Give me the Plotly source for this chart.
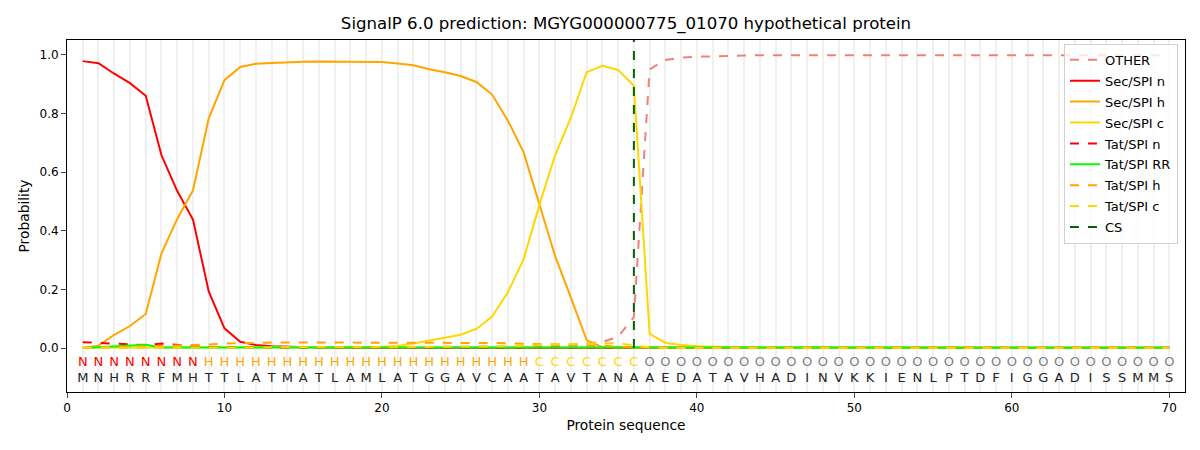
import plotly.graph_objects as go

sequence = "MNHRRFMHTTLATMATLAMLATGGAVCAATAVTANAAEDATAVHADINVKKIENLPTDFIGGADISSMMS"
region_labels = "N" * 8 + "H" * 21 + "C" * 7 + "O" * 34
positions = list(range(1, len(sequence) + 1))
cs_site = 36

other = [0.001] * 20 + [0.003, 0.003, 0.003, 0.004, 0.004, 0.004, 0.005, 0.005, 0.005, 0.006,
         0.007, 0.010, 0.015, 0.021, 0.038, 0.105, 0.950, 0.982, 0.990, 0.993,
         0.995, 0.996, 0.997, 0.998] + [0.998] * 26
sec_n = [0.978, 0.971, 0.935, 0.903, 0.860, 0.657, 0.535, 0.438, 0.193, 0.067,
         0.021, 0.010, 0.006, 0.004, 0.003, 0.002, 0.002] + [0.001] * 53
sec_h = [0.001, 0.008, 0.045, 0.075, 0.116, 0.323, 0.440, 0.537, 0.783, 0.913,
         0.958, 0.969, 0.972, 0.975, 0.976, 0.977, 0.977, 0.977, 0.976, 0.975,
         0.970, 0.964, 0.950, 0.940, 0.927, 0.907, 0.864, 0.775, 0.667, 0.488,
         0.313, 0.172, 0.027, 0.003, 0.001, 0.001] + [0.001] * 34
sec_c = [0.001] * 17 + [0.002, 0.003, 0.004, 0.007, 0.015, 0.025, 0.035, 0.045, 0.065,
         0.107, 0.190, 0.303, 0.488, 0.658, 0.785, 0.940, 0.962, 0.948, 0.894,
         0.048, 0.018, 0.010, 0.006, 0.004, 0.003, 0.002] + [0.001] * 27
tat_n = [0.020, 0.018, 0.016, 0.013, 0.010, 0.015, 0.010, 0.006, 0.004, 0.003,
         0.002, 0.002] + [0.001] * 58
tat_rr = [0.000, 0.003, 0.006, 0.009, 0.011, 0.002, 0.002, 0.001] + [0.001] * 62
tat_h = [0.000, 0.002, 0.004, 0.005, 0.006, 0.007, 0.008, 0.010, 0.012, 0.015,
         0.017, 0.019, 0.019, 0.019, 0.019, 0.019, 0.019, 0.019, 0.019, 0.019,
         0.019, 0.019, 0.019, 0.018, 0.018, 0.017, 0.017, 0.016, 0.015, 0.013,
         0.012, 0.011, 0.010, 0.008, 0.004, 0.002] + [0.000] * 34
tat_c = [0.001] * 20 + [0.003, 0.003, 0.004, 0.004, 0.005, 0.005, 0.006, 0.006, 0.008, 0.010,
         0.011, 0.012, 0.014, 0.016, 0.016, 0.010, 0.002] + [0.001] * 33

series = [
    ("OTHER", other, "#f08080", "dash"),
    ("Sec/SPI n", sec_n, "#ff0000", "solid"),
    ("Sec/SPI h", sec_h, "#ffa500", "solid"),
    ("Sec/SPI c", sec_c, "#ffd700", "solid"),
    ("Tat/SPI n", tat_n, "#ff0000", "dash"),
    ("Tat/SPI RR", tat_rr, "#00ff00", "solid"),
    ("Tat/SPI h", tat_h, "#ffa500", "dash"),
    ("Tat/SPI c", tat_c, "#ffd700", "dash"),
]

label_colors = {"N": "#ff0000", "H": "#ffa500", "C": "#ffd700", "O": "#808080"}

fig = go.Figure()

for name, vals, color, dash in series:
    fig.add_trace(go.Scatter(x=positions, y=vals, name=name, mode="lines", legendgroup=name,
                             line=dict(color=color, width=2, dash=dash)))

fig.add_trace(go.Scatter(x=[cs_site, cs_site], y=[0, 1.05], name="CS", mode="lines", legendgroup="CS",
                         line=dict(color="#006400", width=2, dash="dash")))

fig.add_trace(go.Scatter(x=positions, y=[-0.05] * len(positions), mode="text",
                         text=list(region_labels), showlegend=False, hoverinfo="skip",
                         textfont=dict(size=13, color=[label_colors[c] for c in region_labels])))
fig.add_trace(go.Scatter(x=positions, y=[-0.105] * len(positions), mode="text",
                         text=list(sequence), showlegend=False, hoverinfo="skip",
                         textfont=dict(size=13, color="#222222")))

# the page puts the figure 8px in from the top-left corner
fig.update_layout(
    width=1192, height=442,
    margin=dict(l=59, r=15, t=32, b=58, autoexpand=False),
    plot_bgcolor="white", paper_bgcolor="white",
    font=dict(family="DejaVu Sans", size=13, color="black"),
    title=dict(text="SignalP 6.0 prediction: MGYG000000775_01070 hypothetical protein",
               x=0.5, xref="paper", xanchor="center", y=0.966, yanchor="middle", yref="container",
               font=dict(size=16.6)),
    legend=dict(x=0.9937, y=0.989, xanchor="right", yanchor="top",
                bordercolor="#d0d0d0", borderwidth=1, bgcolor="rgba(255,255,255,0.8)",
                font=dict(size=13), tracegroupgap=1),
)

fig.update_xaxes(range=[0, 71], tickvals=list(range(0, 71, 10)), ticks="outside", ticklen=5,
                 tickfont=dict(size=12),
                 showline=True, linecolor="black", mirror=True, showgrid=False, zeroline=False,
                 automargin=False, title=dict(text="Protein sequence", standoff=5, font=dict(size=13.8)),
                 minor=dict(dtick=1, tick0=0, showgrid=True, gridcolor="#f0f0f0", gridwidth=2, ticks=""))
fig.update_yaxes(range=[-0.15, 1.05], tickvals=[0, 0.2, 0.4, 0.6, 0.8, 1.0], tickformat=".1f",
                 ticks="outside", ticklen=5, tickfont=dict(size=12),
                 showline=True, linecolor="black", mirror=True,
                 automargin=False, showgrid=False, zeroline=False,
                 title=dict(text="Probability", standoff=6, font=dict(size=13.8)))

fig.write_html("out.html")
